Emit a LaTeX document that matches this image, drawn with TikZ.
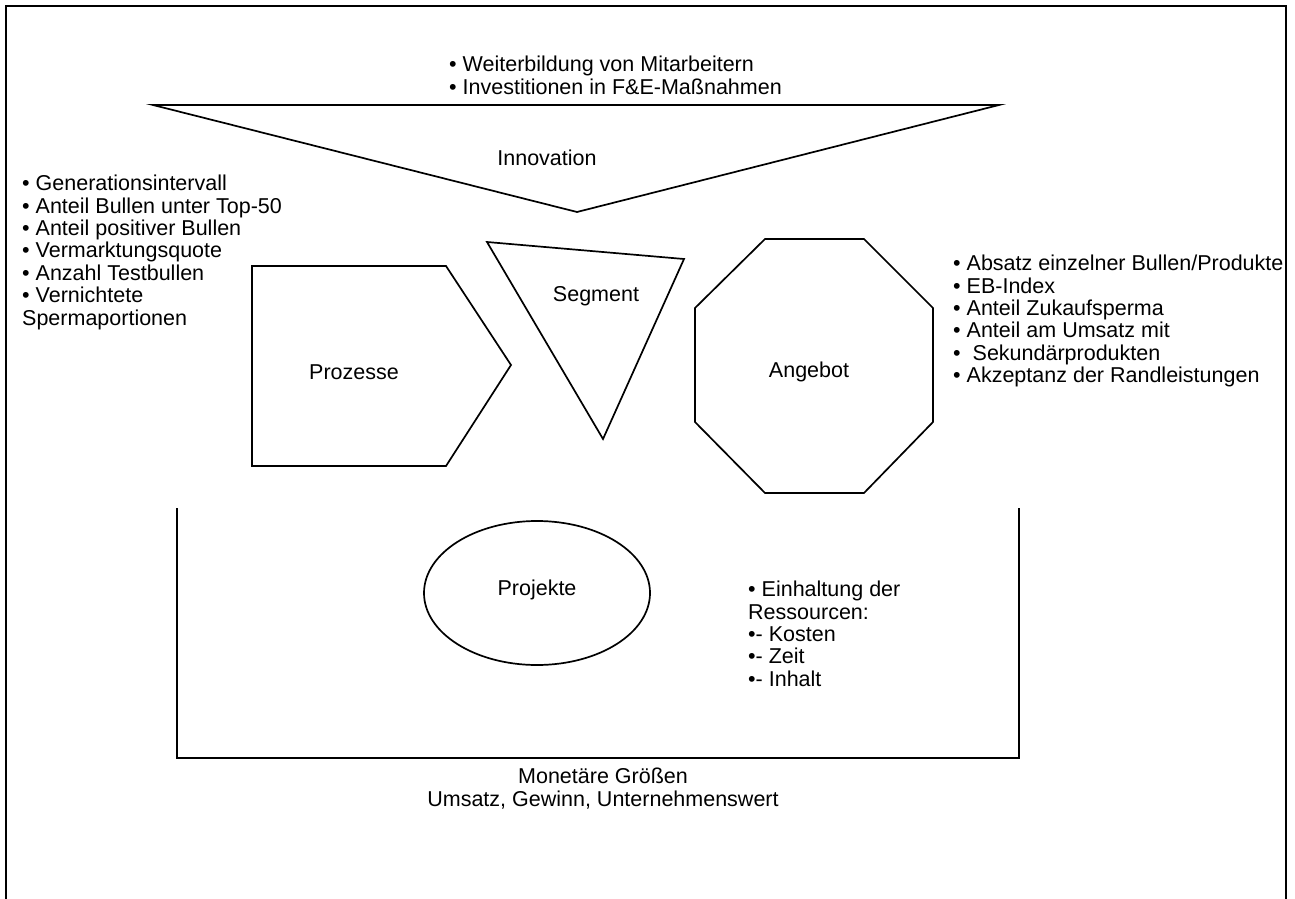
\documentclass[tikz,border=0pt]{standalone}
\usepackage{fontspec}
\setmainfont{Liberation Sans}
\begin{document}
\begin{tikzpicture}[x=1pt,y=-1pt,
  outline/.style={draw=black,line width=1.7pt,line join=miter},
  label/.style={inner sep=0pt,font=\fontsize{21.5}{22.4}\selectfont},
  listtext/.style={label,align=left,anchor=north west}]
\useasboundingbox (0,0) rectangle (1295,899);

% open frame
\draw[line width=2.2pt] (6,899) -- (6,6) -- (1286,6) -- (1286,899);

% Innovation funnel
\coordinate (iL) at (153,105);
\coordinate (iR) at (999,105);
\coordinate (iB) at (577,212);
\draw[outline] (iL) -- (iR) -- (iB) -- cycle;
\node[label] (innov) at (547,158) {Innovation};
\node[listtext] (innovlist) at (449,56) {• Weiterbildung von Mitarbeitern\\• Investitionen in F\&E-Maßnahmen};

% Prozesse pentagon
\draw[outline] (252,266) -- (446,266) -- (511,365) -- (446,466) -- (252,466) -- cycle;
\node[label] (proz) at (354,372) {Prozesse};
\node[listtext] (prozlist) at (22,175) {• Generationsintervall\\• Anteil Bullen unter Top-50\\• Anteil positiver Bullen\\• Vermarktungsquote\\• Anzahl Testbullen\\• Vernichtete\\Spermaportionen};

% Segment triangle
\draw[outline] (487,242) -- (684,259) -- (603,439) -- cycle;
\node[label] (seg) at (596,296) {Segment};

% Angebot octagon
\draw[outline] (765,239) -- (864,239) -- (933,308) -- (933,422) -- (864,493) -- (765,493) -- (695,422) -- (695,308) -- cycle;
\node[label] (angebot) at (809,372) {Angebot};
\node[listtext] (angebotlist) at (953,255) {• Absatz einzelner Bullen/Produkte\\• EB-Index\\• Anteil Zukaufsperma\\• Anteil am Umsatz mit\\•\ \ Sekundärprodukten\\• Akzeptanz der Randleistungen};

% Projekte ellipse
\draw[outline] (537,593) ellipse [x radius=113, y radius=72];
\node[label] (proj) at (537,590) {Projekte};
\node[listtext] (projlist) at (748,581) {• Einhaltung der\\Ressourcen:\\•- Kosten\\•- Zeit\\•- Inhalt};

% monetary bracket
\coordinate (bL) at (177,508);
\coordinate (bR) at (1019,508);
\draw[outline] (bL) -- (177,758) -- (1019,758) -- (bR);
\node[label,align=center,anchor=north] (money) at (603,768) {Monetäre Größen\\Umsatz, Gewinn, Unternehmenswert};
\end{tikzpicture}
\end{document}
